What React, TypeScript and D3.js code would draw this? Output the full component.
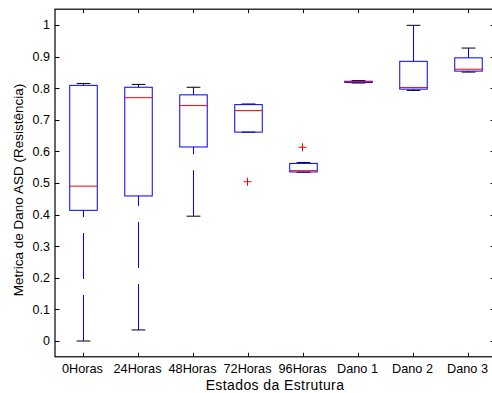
import * as d3 from 'd3';
import { useEffect, useRef } from 'react';

const categories = ['0Horas', '24Horas', '48Horas', '72Horas', '96Horas', 'Dano 1', 'Dano 2', 'Dano 3'];
const lowerWhisker = [0.0, 0.035, 0.395, 0.661, 0.534, 0.8165, 0.793, 0.851];
const q1 = [0.4135, 0.459, 0.614, 0.661, 0.535, 0.818, 0.797, 0.854];
const medians = [0.49, 0.77, 0.745, 0.729, 0.539, 0.82, 0.802, 0.86];
const q3 = [0.809, 0.803, 0.779, 0.748, 0.562, 0.822, 0.885, 0.896];
const upperWhisker = [0.815, 0.812, 0.803, 0.75, 0.565, 0.824, 0.999, 0.927];
const outlierCats = ['72Horas', '96Horas'];
const outlierValues = [0.504, 0.613];
const yTicks = [0, 0.1, 0.2, 0.3, 0.4, 0.5, 0.6, 0.7, 0.8, 0.9, 1];

export default function App() {
  const ref = useRef<SVGSVGElement | null>(null);

  useEffect(() => {
    document.body.style.margin = '0';
    const svg = d3.select(ref.current);
    svg.selectAll('*').remove();
    const font = 'Arial, "Liberation Sans", Helvetica, sans-serif';

    const x = d3.scaleLinear().domain([0.5, 8.5]).range([55, 495]);
    const y = d3.scaleLinear().domain([-0.05, 1.05]).range([356.8, 9.2]);
    const [x0, x1] = x.range();
    const [yb, yt] = y.range();
    const pos = (c: string) => x(categories.indexOf(c) + 1);
    const boxHalf = x(1.25) - x(1);
    const capHalf = x(1.125) - x(1);

    svg.append('rect').attr('x', 0).attr('y', 0).attr('width', 492).attr('height', 393).attr('fill', '#fff');

    // ticks (inside) and labels
    const ax = svg.append('g').attr('stroke', '#000').attr('stroke-width', 1);
    yTicks.forEach((t) => {
      const yy = Math.round(y(t)) + 0.5;
      ax.append('line').attr('x1', x0).attr('x2', x0 + 4.5).attr('y1', yy).attr('y2', yy);
      ax.append('line').attr('x1', x1).attr('x2', x1 - 4.5).attr('y1', yy).attr('y2', yy);
    });
    categories.forEach((c) => {
      const xx = Math.round(pos(c)) + 0.5;
      ax.append('line').attr('x1', xx).attr('x2', xx).attr('y1', yb).attr('y2', yb - 4);
      ax.append('line').attr('x1', xx).attr('x2', xx).attr('y1', yt).attr('y2', yt + 4);
    });
    ax.append('rect')
      .attr('x', x0)
      .attr('y', yt)
      .attr('width', x1 - x0)
      .attr('height', yb - yt)
      .attr('fill', 'none')
      .attr('stroke-width', 1.2);

    svg.append('g')
      .selectAll('text')
      .data(yTicks)
      .enter()
      .append('text')
      .attr('x', 50)
      .attr('y', (d) => y(d))
      .attr('dy', '0.35em')
      .attr('text-anchor', 'end')
      .attr('font-family', font)
      .attr('font-size', 12.5)
      .text((d) => d3.format('~g')(d));

    svg.append('g')
      .selectAll('text')
      .data(categories)
      .enter()
      .append('text')
      .attr('x', (d) => pos(d))
      .attr('y', 373)
      .attr('text-anchor', 'middle')
      .attr('font-family', font)
      .attr('font-size', 12.7)
      .text((d) => d);

    svg.append('text')
      .attr('x', (x0 + x1) / 2)
      .attr('y', 390)
      .attr('text-anchor', 'middle')
      .attr('font-family', font)
      .attr('font-size', 14)
      .attr('letter-spacing', 0.4)
      .text('Estados da Estrutura');

    svg.append('text')
      .attr('transform', `translate(23,${(yb + yt) / 2 + 7}) rotate(-90)`)
      .attr('text-anchor', 'middle')
      .attr('font-family', font)
      .attr('font-size', 13.5)
      .text('Metrica de Dano ASD (Resistência)');

    // boxes
    const g = svg.append('g');
    categories.forEach((c, i) => {
      const cx = Math.round(pos(c)) + 0.5;
      // whiskers, dashed from cap toward box
      g.append('line')
        .attr('x1', cx).attr('x2', cx)
        .attr('y1', y(lowerWhisker[i])).attr('y2', y(q1[i]))
        .attr('stroke', '#0000ff').attr('stroke-dasharray', '46 16');
      g.append('line')
        .attr('x1', cx).attr('x2', cx)
        .attr('y1', y(upperWhisker[i])).attr('y2', y(q3[i]))
        .attr('stroke', '#0000ff').attr('stroke-dasharray', '46 16');
      // caps
      [lowerWhisker[i], upperWhisker[i]].forEach((v) => {
        g.append('line')
          .attr('x1', cx - capHalf).attr('x2', cx + capHalf)
          .attr('y1', y(v)).attr('y2', y(v))
          .attr('stroke', '#000');
      });
      g.append('rect')
        .attr('x', cx - boxHalf)
        .attr('y', y(q3[i]))
        .attr('width', boxHalf * 2)
        .attr('height', Math.max(y(q1[i]) - y(q3[i]), 0.5))
        .attr('fill', 'none')
        .attr('stroke', '#0000ff');
      g.append('line')
        .attr('x1', cx - boxHalf).attr('x2', cx + boxHalf)
        .attr('y1', y(medians[i])).attr('y2', y(medians[i]))
        .attr('stroke', '#ff0000');
    });

    // outliers
    outlierCats.forEach((c, i) => {
      const cx = pos(c);
      const cy = y(outlierValues[i]);
      g.append('path')
        .attr('d', `M${cx - 4},${cy}H${cx + 4}M${cx},${cy - 4}V${cy + 4}`)
        .attr('stroke', '#ff0000')
        .attr('fill', 'none');
    });
  }, []);

  return (
    <svg
      ref={ref}
      width={492}
      height={393}
      style={{ position: 'absolute', left: 0, top: 0, display: 'block', overflow: 'hidden' }}
    />
  );
}
